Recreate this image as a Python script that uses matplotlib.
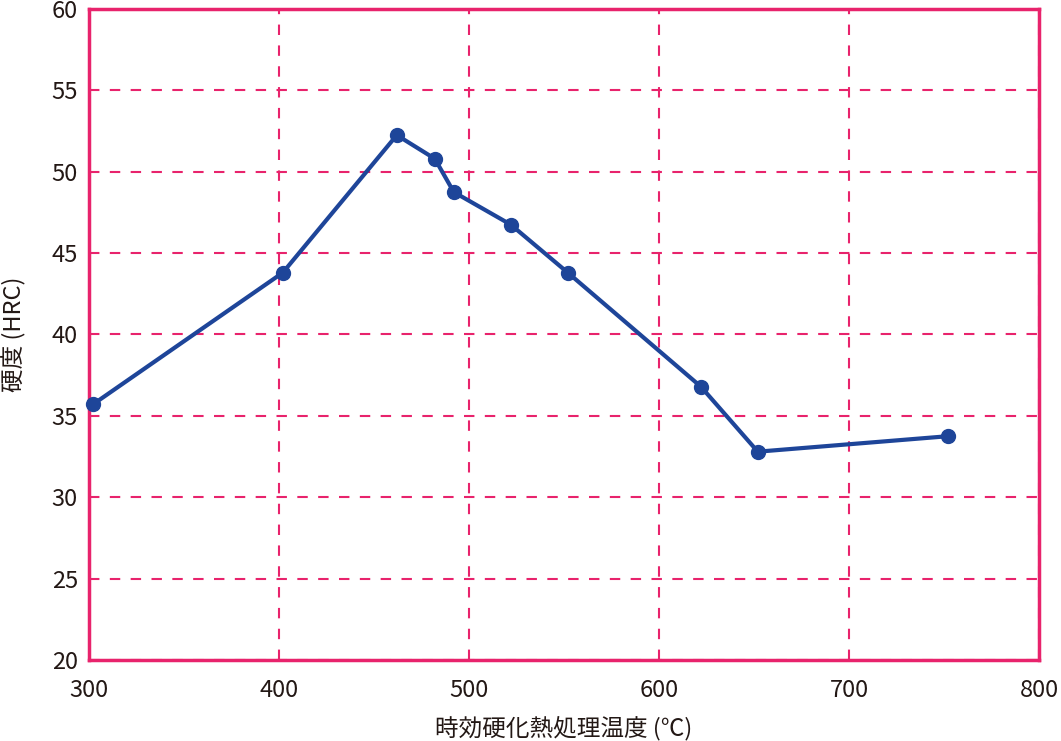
import matplotlib
matplotlib.use("Agg")
import matplotlib.pyplot as plt

temps = [302, 402, 462, 482, 492, 522, 552, 622, 652, 752]
hardness = [35.7, 43.8, 52.25, 50.8, 48.75, 46.75, 43.8, 36.8, 32.8, 33.75]
xticks = [300, 400, 500, 600, 700, 800]
yticks = [20, 25, 30, 35, 40, 45, 50, 55, 60]
xlabel = "時効硬化熱処理温度 (℃)"
ylabel = "硬度 (HRC)"

pink = "#E8236C"
blue = "#1E4599"
txt = "#231815"

plt.rcParams['font.family'] = ['Noto Sans CJK JP', 'DejaVu Sans']

fig = plt.figure(figsize=(10.61, 7.41), dpi=100)
ax = fig.add_axes([89/1061, 81/741, 950/1061, 651/741])
ax.set_xlim(300, 800)
ax.set_ylim(20, 60)
ax.set_xticks(xticks)
ax.set_yticks(yticks)
ax.grid(True, color=pink, linestyle=(0, (5, 5)), linewidth=1.5)
for s in ax.spines.values():
    s.set_color(pink)
    s.set_linewidth(2.5)
ax.tick_params(length=0, labelsize=17, colors=txt, pad=8)
ax.tick_params(axis='x', pad=14)
ax.plot(temps, hardness, color=blue, linewidth=3, marker='o', markersize=10, zorder=5, clip_on=False)
ax.set_xlabel(xlabel, fontsize=17, color=txt, labelpad=10)
ax.set_ylabel(ylabel, fontsize=17, color=txt, labelpad=18)
fig.savefig("out.png", dpi=100)
